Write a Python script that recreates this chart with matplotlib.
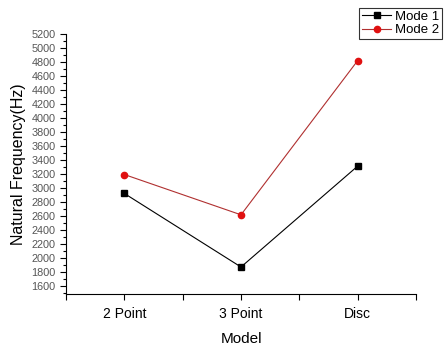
import matplotlib
matplotlib.use('Agg')
import matplotlib.pyplot as plt
from matplotlib.ticker import MultipleLocator

plt.rcParams['font.family'] = ['Liberation Sans', 'DejaVu Sans']

# data
models = ['2 Point', '3 Point', 'Disc']
mode1 = [2925, 1875, 3315]
mode2 = [3195, 2620, 4820]

x = [1, 2, 3]

fig = plt.figure(figsize=(4.45, 3.45), dpi=100)
ax = fig.add_axes([66/445, 51/345, 350/445, 260/345])

l1, = ax.plot(x, mode1, color='black', lw=0.8, marker='s', ms=4, label='Mode 1')
l2, = ax.plot(x, mode2, color='#b03030', lw=0.8, marker='o', ms=4.5,
              mfc='#e01010', mec='#e01010', label='Mode 2')

ax.set_xlim(0.5, 3.5)
ax.set_ylim(1490, 5200)
ax.set_xticks(x)
ax.set_xticklabels(models, fontsize=10)
ax.set_xticks([0.5, 1.5, 2.5, 3.5], minor=True)
ax.yaxis.set_minor_locator(MultipleLocator(100))
ax.set_yticks(range(1600, 5201, 200))
ax.tick_params(axis='y', which='major', labelsize=7.8, labelcolor='#555555', length=4, width=0.8)
ax.tick_params(axis='y', which='minor', length=2, width=0.8)
ax.tick_params(axis='x', which='major', length=4, width=0.8, pad=5)
ax.tick_params(axis='x', which='minor', length=4, width=0.8)

for s in ['top', 'right']:
    ax.spines[s].set_visible(False)
for s in ['left', 'bottom']:
    ax.spines[s].set_linewidth(0.8)

ax.set_xlabel('Model', fontsize=11, labelpad=8)
ax.set_ylabel('Natural Frequency(Hz)', fontsize=11.5, labelpad=4)

leg = fig.legend(handles=[l1, l2], loc='upper right', bbox_to_anchor=(442/445, 1 - 8/345),
                 fontsize=9.5, frameon=True, fancybox=False, handlelength=2.2,
                 borderpad=0.2, labelspacing=0.1, handletextpad=0.3, borderaxespad=0)
leg.get_frame().set_edgecolor('black')
leg.get_frame().set_linewidth(0.8)

fig.savefig('out.png', dpi=100)
